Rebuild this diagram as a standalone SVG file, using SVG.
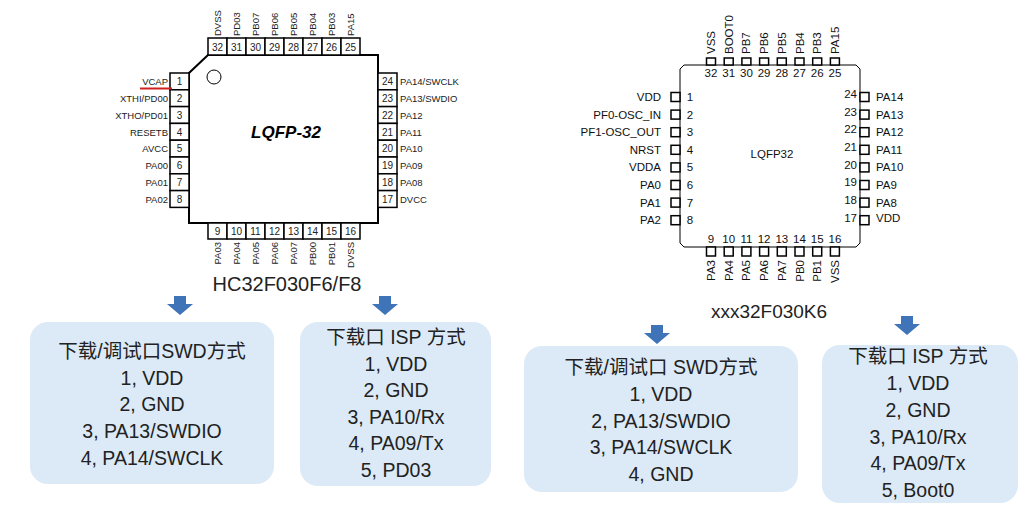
<svg xmlns="http://www.w3.org/2000/svg" width="1031" height="509" viewBox="0 0 1031 509">
<style>
.p{fill:#fff;stroke:#000;stroke-width:1.5}
.s{font-family:"Liberation Sans",Arial,sans-serif;font-size:9.5px;fill:#222}
.n{font-family:"Liberation Sans",Arial,sans-serif;font-size:10px;fill:#222;text-anchor:middle}
.r{font-family:"Liberation Sans",Arial,sans-serif;font-size:11.5px;fill:#111}
.q{fill:#fff;stroke:#000;stroke-width:1.5}
.box{fill:#dceaf7}
.t{font-family:"Liberation Sans","Noto Sans CJK SC",sans-serif;font-size:19.5px;fill:#222;text-anchor:middle}
.arr{fill:#3f74b8}
</style>
<rect width="1031" height="509" fill="#fff"/>
<g id="chip1">
<path d="M208,55 H378 V223 H189 V73 Z" fill="#fff" stroke="#000" stroke-width="2"/>
<circle cx="214" cy="77" r="7" fill="none" stroke="#000"/>
<text x="286" y="138" text-anchor="middle" style="font-family:'Liberation Sans',Arial,sans-serif;font-size:17px;font-weight:bold;font-style:italic">LQFP-32</text>
<g class="p">
<rect x="208" y="38" width="19" height="17"/><rect x="227" y="38" width="19" height="17"/><rect x="246" y="38" width="19" height="17"/><rect x="265" y="38" width="19" height="17"/><rect x="284" y="38" width="19" height="17"/><rect x="303" y="38" width="19" height="17"/><rect x="322" y="38" width="19" height="17"/><rect x="341" y="38" width="19" height="17"/>
<rect x="208" y="223" width="19" height="16"/><rect x="227" y="223" width="19" height="16"/><rect x="246" y="223" width="19" height="16"/><rect x="265" y="223" width="19" height="16"/><rect x="284" y="223" width="19" height="16"/><rect x="303" y="223" width="19" height="16"/><rect x="322" y="223" width="19" height="16"/><rect x="341" y="223" width="19" height="16"/>
<rect x="170" y="73" width="19" height="16.8"/><rect x="170" y="89.8" width="19" height="16.8"/><rect x="170" y="106.6" width="19" height="16.8"/><rect x="170" y="123.4" width="19" height="16.8"/><rect x="170" y="140.2" width="19" height="16.8"/><rect x="170" y="157" width="19" height="16.8"/><rect x="170" y="173.8" width="19" height="16.8"/><rect x="170" y="190.6" width="19" height="16.8"/>
<rect x="378" y="73" width="19" height="16.8"/><rect x="378" y="89.8" width="19" height="16.8"/><rect x="378" y="106.6" width="19" height="16.8"/><rect x="378" y="123.4" width="19" height="16.8"/><rect x="378" y="140.2" width="19" height="16.8"/><rect x="378" y="157" width="19" height="16.8"/><rect x="378" y="173.8" width="19" height="16.8"/><rect x="378" y="190.6" width="19" height="16.8"/>
</g>
<g class="n">
<text x="217.5" y="51">32</text><text x="236.5" y="51">31</text><text x="255.5" y="51">30</text><text x="274.5" y="51">29</text><text x="293.5" y="51">28</text><text x="312.5" y="51">27</text><text x="331.5" y="51">26</text><text x="350.5" y="51">25</text>
<text x="217.5" y="235">9</text><text x="236.5" y="235">10</text><text x="255.5" y="235">11</text><text x="274.5" y="235">12</text><text x="293.5" y="235">13</text><text x="312.5" y="235">14</text><text x="331.5" y="235">15</text><text x="350.5" y="235">16</text>
<text x="179.5" y="85">1</text><text x="179.5" y="102">2</text><text x="179.5" y="118.5">3</text><text x="179.5" y="135.5">4</text><text x="179.5" y="152">5</text><text x="179.5" y="169">6</text><text x="179.5" y="186">7</text><text x="179.5" y="202.5">8</text>
<text x="387.5" y="85">24</text><text x="387.5" y="102">23</text><text x="387.5" y="118.5">22</text><text x="387.5" y="135.5">21</text><text x="387.5" y="152">20</text><text x="387.5" y="169">19</text><text x="387.5" y="186">18</text><text x="387.5" y="202.5">17</text>
</g>
<g class="s" text-anchor="end">
<text x="168" y="85">VCAP</text><text x="168" y="102">XTHI/PD00</text><text x="168" y="118.5">XTHO/PD01</text><text x="168" y="135.5">RESETB</text><text x="168" y="152">AVCC</text><text x="168" y="169">PA00</text><text x="168" y="186">PA01</text><text x="168" y="202.5">PA02</text>
</g>
<g class="s">
<text x="400" y="85">PA14/SWCLK</text><text x="400" y="102">PA13/SWDIO</text><text x="400" y="118.5">PA12</text><text x="400" y="135.5">PA11</text><text x="400" y="152">PA10</text><text x="400" y="169">PA09</text><text x="400" y="186">PA08</text><text x="400" y="202.5">DVCC</text>
<text transform="translate(221,36) rotate(-90)">DVSS</text><text transform="translate(240,36) rotate(-90)">PD03</text><text transform="translate(259,36) rotate(-90)">PB07</text><text transform="translate(278,36) rotate(-90)">PB06</text><text transform="translate(297,36) rotate(-90)">PB05</text><text transform="translate(316,36) rotate(-90)">PB04</text><text transform="translate(335,36) rotate(-90)">PB03</text><text transform="translate(354,36) rotate(-90)">PA15</text>
</g>
<g class="s" text-anchor="end">
<text transform="translate(221,242) rotate(-90)">PA03</text><text transform="translate(240,242) rotate(-90)">PA04</text><text transform="translate(259,242) rotate(-90)">PA05</text><text transform="translate(278,242) rotate(-90)">PA06</text><text transform="translate(297,242) rotate(-90)">PA07</text><text transform="translate(316,242) rotate(-90)">PB00</text><text transform="translate(335,242) rotate(-90)">PB01</text><text transform="translate(354,242) rotate(-90)">DVSS</text>
</g>
<line x1="140" y1="88.5" x2="172" y2="88.5" stroke="#d02020" stroke-width="2"/>
<text x="287" y="291" style="font-family:'Liberation Sans',Arial,sans-serif;font-size:20px;fill:#222" text-anchor="middle">HC32F030F6/F8</text>
</g>
<g id="chip2">
<path d="M684,65 H856 L860,69 V243 L856,247 H684 L680,243 V69 Z" fill="#fff" stroke="#000" stroke-width="1"/>
<text x="772" y="158" class="r" text-anchor="middle">LQFP32</text>
<g class="q">
<rect x="706.5" y="58" width="9" height="7"/><rect x="724.2" y="58" width="9" height="7"/><rect x="741.9" y="58" width="9" height="7"/><rect x="759.6" y="58" width="9" height="7"/><rect x="777.3" y="58" width="9" height="7"/><rect x="795" y="58" width="9" height="7"/><rect x="812.7" y="58" width="9" height="7"/><rect x="830.4" y="58" width="9" height="7"/>
<rect x="706.5" y="247" width="9" height="9"/><rect x="724.2" y="247" width="9" height="9"/><rect x="741.9" y="247" width="9" height="9"/><rect x="759.6" y="247" width="9" height="9"/><rect x="777.3" y="247" width="9" height="9"/><rect x="795" y="247" width="9" height="9"/><rect x="812.7" y="247" width="9" height="9"/><rect x="830.4" y="247" width="9" height="9"/>
<rect x="671" y="92.5" width="9" height="9"/><rect x="671" y="110.1" width="9" height="9"/><rect x="671" y="127.7" width="9" height="9"/><rect x="671" y="145.3" width="9" height="9"/><rect x="671" y="162.9" width="9" height="9"/><rect x="671" y="180.5" width="9" height="9"/><rect x="671" y="198.1" width="9" height="9"/><rect x="671" y="215.7" width="9" height="9"/>
<rect x="860" y="92.5" width="9" height="9"/><rect x="860" y="110.1" width="9" height="9"/><rect x="860" y="127.7" width="9" height="9"/><rect x="860" y="145.3" width="9" height="9"/><rect x="860" y="162.9" width="9" height="9"/><rect x="860" y="180.5" width="9" height="9"/><rect x="860" y="198.1" width="9" height="9"/><rect x="860" y="215.7" width="9" height="9"/>
</g>
<g class="r" text-anchor="middle">
<text x="711" y="77">32</text><text x="728.7" y="77">31</text><text x="746.4" y="77">30</text><text x="764.1" y="77">29</text><text x="781.8" y="77">28</text><text x="799.5" y="77">27</text><text x="817.2" y="77">26</text><text x="834.9" y="77">25</text>
<text x="711" y="243">9</text><text x="728.7" y="243">10</text><text x="746.4" y="243">11</text><text x="764.1" y="243">12</text><text x="781.8" y="243">13</text><text x="799.5" y="243">14</text><text x="817.2" y="243">15</text><text x="834.9" y="243">16</text>
<text x="690" y="101">1</text><text x="690" y="118.5">2</text><text x="690" y="136">3</text><text x="690" y="153.5">4</text><text x="690" y="171">5</text><text x="690" y="189">6</text><text x="690" y="206.5">7</text><text x="690" y="224">8</text>
</g>
<g class="r" text-anchor="end">
<text x="857" y="98">24</text><text x="857" y="115.5">23</text><text x="857" y="133">22</text><text x="857" y="151">21</text><text x="857" y="168.5">20</text><text x="857" y="186">19</text><text x="857" y="204">18</text><text x="857" y="222">17</text>
<text x="661" y="101">VDD</text><text x="661" y="118.5">PF0-OSC_IN</text><text x="661" y="136">PF1-OSC_OUT</text><text x="661" y="153.5">NRST</text><text x="661" y="171">VDDA</text><text x="661" y="189">PA0</text><text x="661" y="206.5">PA1</text><text x="661" y="224">PA2</text>
<text transform="translate(715,260) rotate(-90)">PA3</text><text transform="translate(732.7,260) rotate(-90)">PA4</text><text transform="translate(750.4,260) rotate(-90)">PA5</text><text transform="translate(768.1,260) rotate(-90)">PA6</text><text transform="translate(785.8,260) rotate(-90)">PA7</text><text transform="translate(803.5,260) rotate(-90)">PB0</text><text transform="translate(821.2,260) rotate(-90)">PB1</text><text transform="translate(838.9,260) rotate(-90)">VSS</text>
</g>
<g class="r">
<text x="876" y="101">PA14</text><text x="876" y="118.5">PA13</text><text x="876" y="136">PA12</text><text x="876" y="153.5">PA11</text><text x="876" y="171">PA10</text><text x="876" y="189">PA9</text><text x="876" y="206.5">PA8</text><text x="876" y="222">VDD</text>
<text transform="translate(715,54) rotate(-90)">VSS</text><text transform="translate(732.7,54) rotate(-90)">BOOT0</text><text transform="translate(750.4,54) rotate(-90)">PB7</text><text transform="translate(768.1,54) rotate(-90)">PB6</text><text transform="translate(785.8,54) rotate(-90)">PB5</text><text transform="translate(803.5,54) rotate(-90)">PB4</text><text transform="translate(821.2,54) rotate(-90)">PB3</text><text transform="translate(838.9,54) rotate(-90)">PA15</text>
</g>
<text x="769" y="318" style="font-family:'Liberation Sans',Arial,sans-serif;font-size:19px;fill:#222" text-anchor="middle">xxx32F030K6</text>
</g>
<g id="connectors">
<path class="arr" d="M174,296 h12 v8 h7 l-13,11 l-13,-11 h7 z"/>
<path class="arr" d="M379,296 h12 v8 h7 l-13,11 l-13,-11 h7 z"/>
<path class="arr" d="M651,325 h12 v8 h7 l-13,11 l-13,-11 h7 z"/>
<path class="arr" d="M901,316 h12 v8 h7 l-13,11 l-13,-11 h7 z"/>
</g>
<g id="box1"><rect class="box" x="30" y="322" width="244" height="162" rx="18"/>
<text class="t"><tspan x="152" y="358">下载/调试口SWD方式</tspan><tspan x="152" y="385">1, VDD</tspan><tspan x="152" y="411">2, GND</tspan><tspan x="152" y="438">3, PA13/SWDIO</tspan><tspan x="152" y="465">4, PA14/SWCLK</tspan></text></g>
<g id="box2"><rect class="box" x="300" y="322" width="191" height="164" rx="18"/>
<text class="t"><tspan x="396" y="344">下载口 ISP 方式</tspan><tspan x="396" y="371">1, VDD</tspan><tspan x="396" y="397">2, GND</tspan><tspan x="396" y="424">3, PA10/Rx</tspan><tspan x="396" y="450">4, PA09/Tx</tspan><tspan x="396" y="477">5, PD03</tspan></text></g>
<g id="box3"><rect class="box" x="524" y="346" width="274" height="146" rx="18"/>
<text class="t"><tspan x="661" y="374">下载/调试口 SWD方式</tspan><tspan x="661" y="401">1, VDD</tspan><tspan x="661" y="428">2, PA13/SWDIO</tspan><tspan x="661" y="454">3, PA14/SWCLK</tspan><tspan x="661" y="481">4, GND</tspan></text></g>
<g id="box4"><rect class="box" x="822" y="345" width="196" height="158" rx="18"/>
<text class="t"><tspan x="918" y="363">下载口 ISP 方式</tspan><tspan x="918" y="390">1, VDD</tspan><tspan x="918" y="417">2, GND</tspan><tspan x="918" y="444">3, PA10/Rx</tspan><tspan x="918" y="470">4, PA09/Tx</tspan><tspan x="918" y="497">5, Boot0</tspan></text></g>
</svg>
